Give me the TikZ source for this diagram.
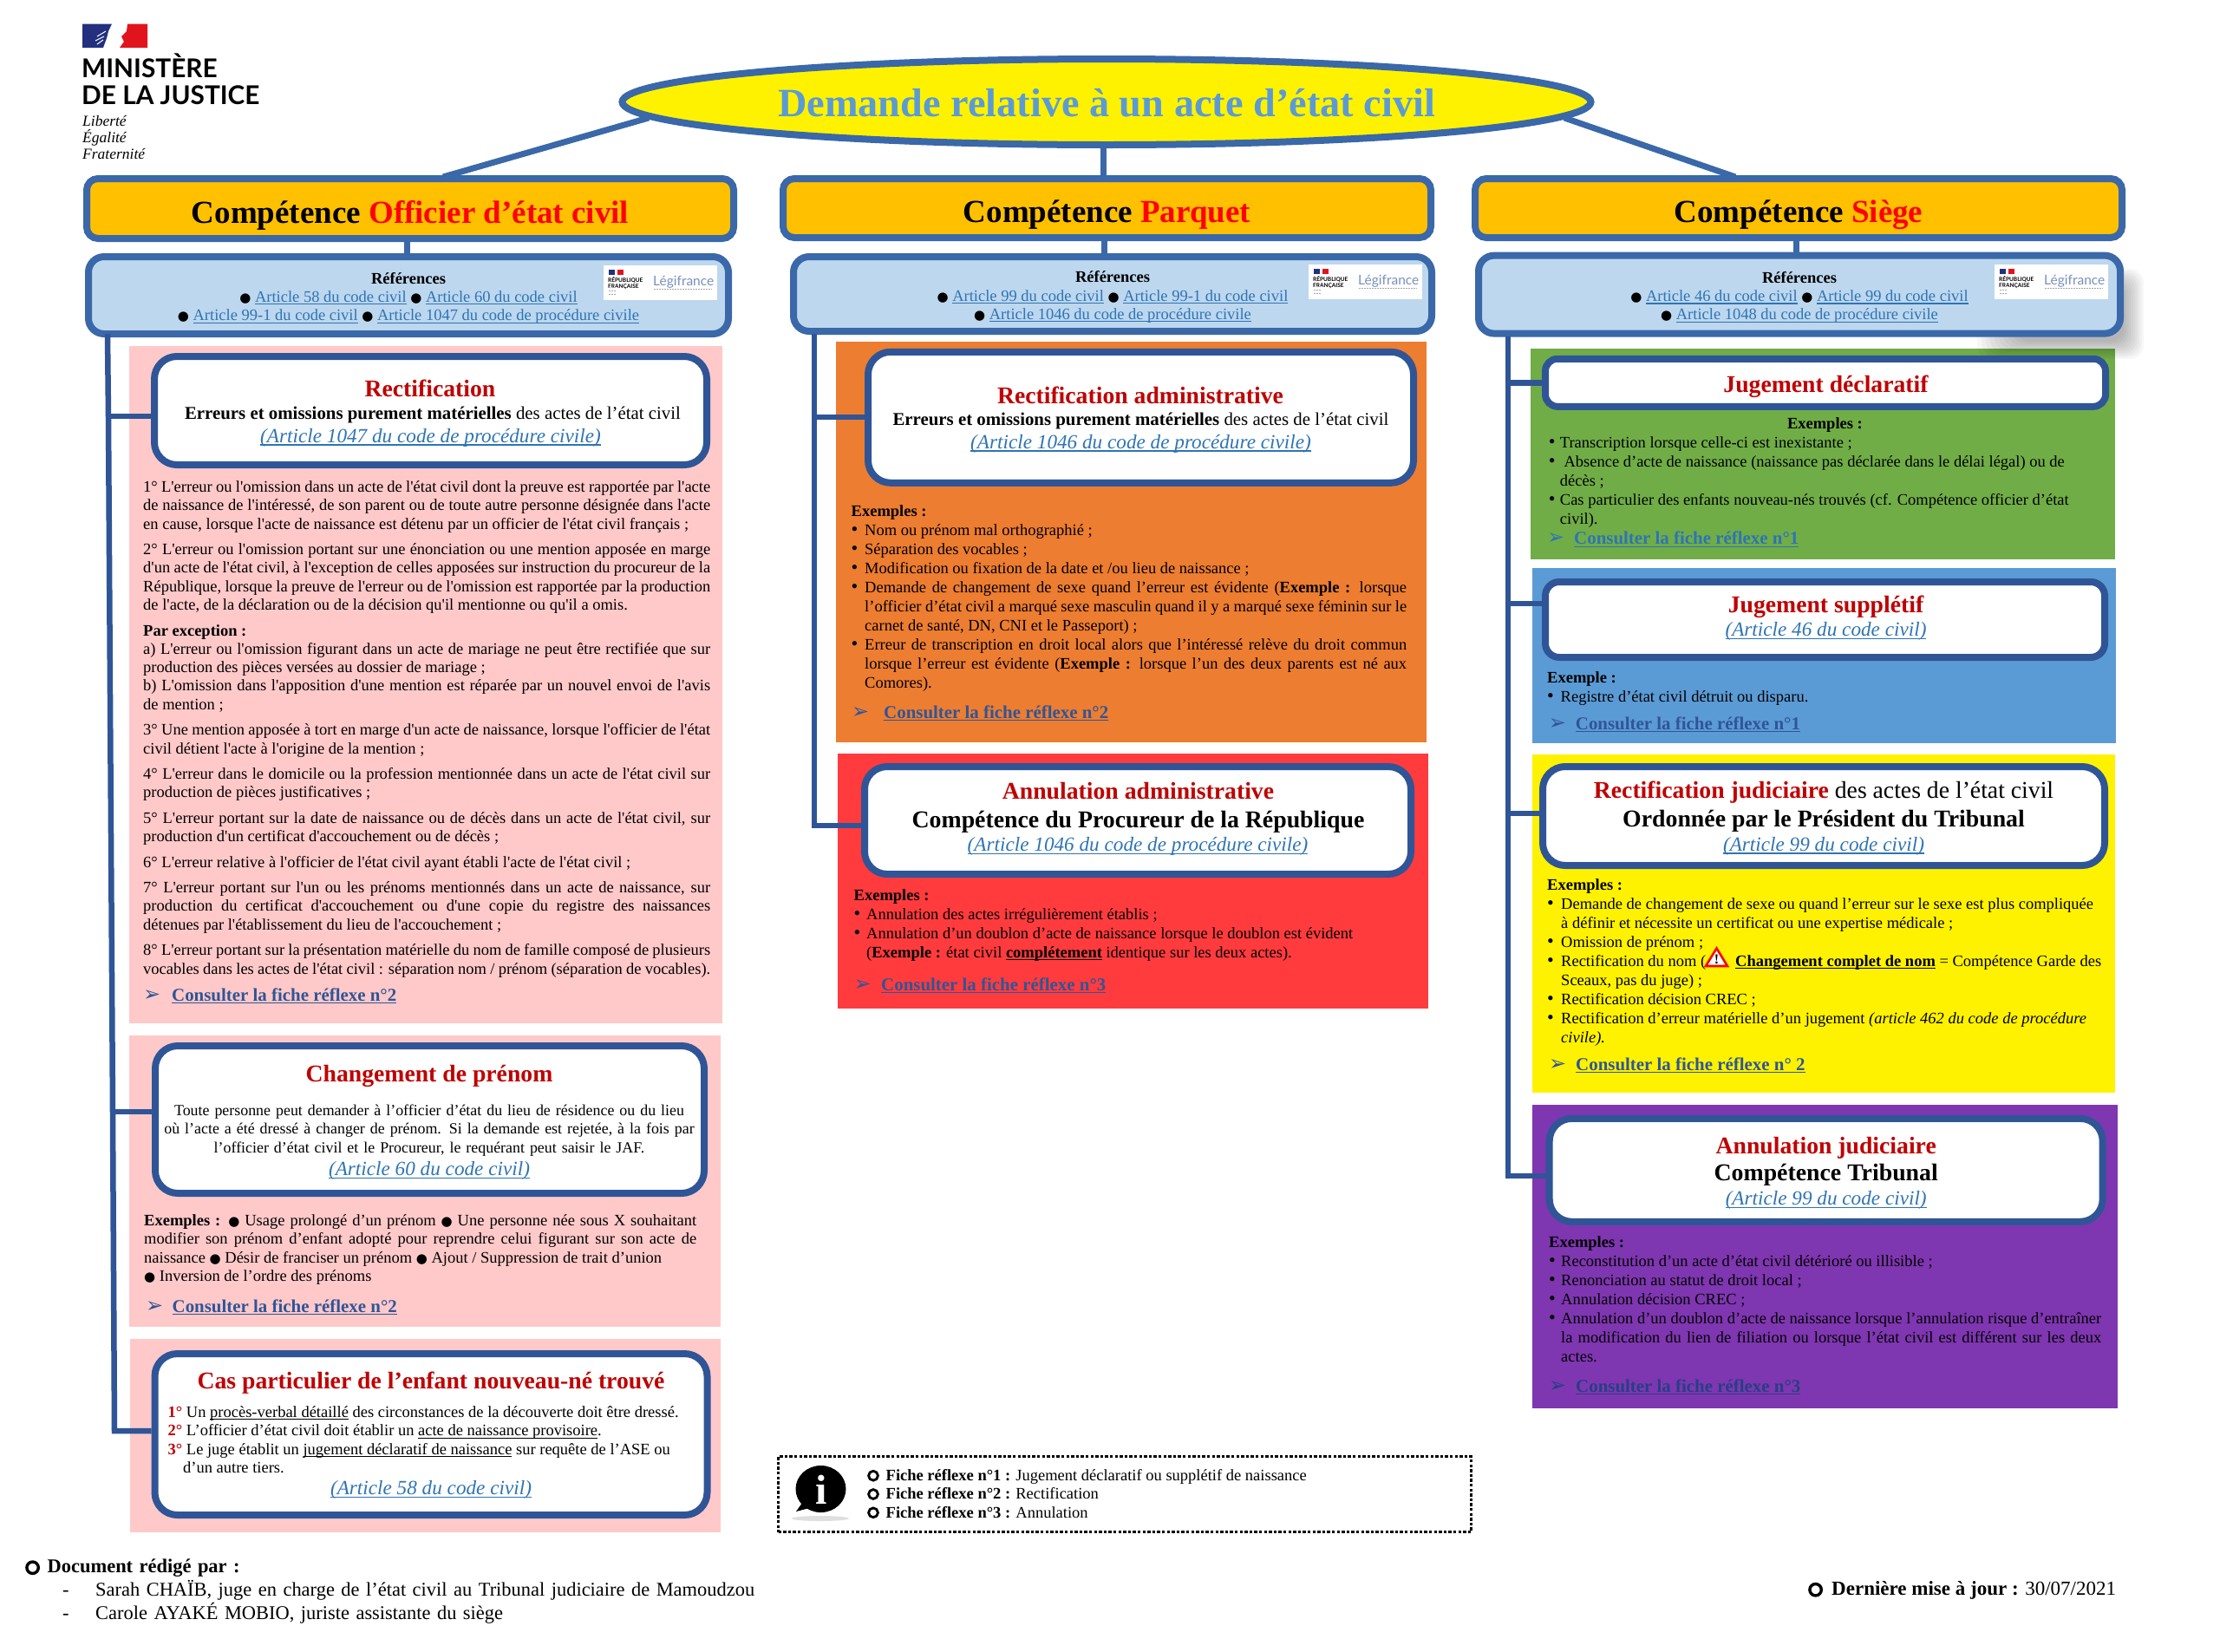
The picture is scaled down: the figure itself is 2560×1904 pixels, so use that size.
\documentclass[tikz,border=0pt]{standalone}
\usepackage{fontspec}
\usepackage{tikz}
\usetikzlibrary{shapes.geometric}
\setmainfont[Ligatures=TeXOff]{Liberation Serif}
\newfontfamily\dingfont{DejaVu Sans}
\newfontfamily\logofont{Lato}
\definecolor{edgeblue}{HTML}{3A68A9}
\definecolor{boxblue}{HTML}{2F5597}
\definecolor{headgold}{HTML}{FFC000}
\definecolor{refblue}{HTML}{BDD7EE}
\definecolor{titlered}{HTML}{C00000}
\definecolor{urlblue}{HTML}{2E74B5}
\definecolor{fichelink}{HTML}{2F5597}
\definecolor{fichedark}{HTML}{263F85}
\definecolor{panepink}{HTML}{FFC9C9}
\definecolor{paneorange}{HTML}{ED7D31}
\definecolor{panered}{HTML}{FF3B3D}
\definecolor{panegreen}{HTML}{70AD47}
\definecolor{paneblue}{HTML}{5B9BD5}
\definecolor{panepurple}{HTML}{7F36B1}
\definecolor{flagblue}{HTML}{23307F}
\definecolor{flagred}{HTML}{E1141E}
\newcommand{\uline}[1]{\leavevmode\setbox0=\hbox{#1}\hbox{\rlap{\vrule width\wd0 height-.1em depth .16em}\box0}}
\newcommand{\rond}{{\dingfont\fontsize{15}{15}\selectfont ●}}
\newcommand{\anneau}[3]{\leavevmode\hbox to #1{\tikz[baseline=-5.8pt]\draw[line width=#3] (0,0) circle (#2);\hfil}}
\newcommand{\lien}[1]{{\color{urlblue}\uline{#1}}}
\newcommand{\fiche}[2]{\leavevmode\hbox to #1{{\color{fichelink}\dingfont\fontsize{24}{24}\selectfont ➢}\hfil}{\color{fichelink}\uline{#2}}}
\newcommand{\puce}[1][13pt]{\par\hangindent=#1\hangafter=1\noindent\hbox to #1{{\fontsize{22}{22}\selectfont •}\hfil}\ignorespaces}
\newcommand{\refhead}{\rule{0pt}{20pt}\textbf{Références}}
\hbadness=10000 \hfuzz=20pt
\begin{document}
\begin{tikzpicture}[x=1pt,y=-1pt,
    header/.style={
% The shape:
      rectangle, rounded corners=13pt, inner sep=0pt,
% The border:
      line width=8pt, draw=edgeblue,
% The filling:
      fill=headgold,
% Font
      font=\fontsize{37}{42}\selectfont\bfseries, text height=33pt, text depth=0pt
    },
    refbox/.style={
      rectangle, rounded corners=18pt, inner sep=0pt,
      line width=8pt, draw=edgeblue, fill=refblue, align=center,
      font=\fontsize{18.5}{21.3}\selectfont
    },
    whitebox/.style={
      rectangle, rounded corners=26pt, inner sep=0pt,
      line width=8pt, draw=boxblue, fill=white
    },
    trait/.style={line width=6.5pt, draw=boxblue},
    toptrait/.style={line width=7pt, draw=edgeblue},
    pane/.style={draw=none},
    boxtitle/.style={anchor=base, inner sep=0pt, text=titlered, font=\fontsize{27.7}{31}\selectfont\bfseries},
    boxsub/.style={anchor=base, inner sep=0pt, font=\fontsize{27.8}{31}\selectfont\bfseries},
    boxline/.style={anchor=base, inner sep=0pt, font=\fontsize{20.85}{24}\selectfont},
    article/.style={anchor=base, inner sep=0pt, font=\fontsize{23.2}{26}\selectfont\itshape},
    ficheref/.style={anchor=base west, inner sep=0pt, font=\fontsize{20.9}{24}\selectfont\bfseries},
    corps/.style={anchor=base west, inner sep=0pt, align=justify, font=\fontsize{18.5}{21.3}\selectfont,
      execute at begin node={\setlength{\parskip}{8.2pt}\tolerance=9999\hyphenpenalty=10000}},
    liste/.style={anchor=base west, inner sep=0pt, align=justify, font=\fontsize{18.5}{22}\selectfont,
      execute at begin node={\tolerance=9999\hyphenpenalty=10000}},
    legifrance/.pic={
      \fill[white] (0,0) rectangle (131,40);
      \fill[flagblue] (6,5) rectangle (13,11);
      \fill[flagred] (16,5) rectangle (23,11);
      \node[anchor=north west, inner sep=0pt, align=left, font=\logofont\fontsize{6.5}{7}\selectfont\bfseries] (-rf) at (5,13) {RÉPUBLIQUE\\FRANÇAISE};
      \node[anchor=base west, inner sep=0pt, text=boxblue!65, font=\logofont\fontsize{15.5}{17}\selectfont] (-lf) at (57,23) {Légifrance};
      \draw[gray!70, line width=1pt, dash pattern=on 2pt off 1pt] (58,27.5) -- (125,27.5);
      \draw[gray!70, line width=1pt, dash pattern=on 2pt off 1pt] (6,25) -- (14,25) (6,29) -- (14,29) (6,33) -- (15,33);
    }]
  \useasboundingbox (0,0) rectangle (2560,1904);
  \fill[white] (0,0) rectangle (2560,1904);
% The logo:
  \fill[flagblue] (95,27.5) -- (129,27.5) -- (125,36) -- (123,44) -- (119,55) -- (95,55) -- cycle;
  \fill[flagred] (147,27.5) -- (170,27.5) -- (170,55) -- (138,55) -- (143,48) -- (140,42) -- (146,36) -- cycle;
  \draw[white, line width=1pt] (112,42) -- (122,36) (110,47) -- (120,42) (112,51) -- (119,46);
  \node[anchor=base west, inner sep=0pt, align=left, font=\logofont\fontsize{29.8}{30.5}\selectfont\bfseries] (ministere) at (94,120) {MINISTÈRE\\DE LA JUSTICE};
  \node[anchor=base west, inner sep=0pt, align=left, font=\fontsize{17.5}{18.6}\selectfont\itshape] (devise) at (95,183) {Liberté\\Égalité\\Fraternité};
% The panes:
  \fill[pane, panepink] (149,399) rectangle (833,1180);
  \fill[pane, panepink] (149,1194) rectangle (831,1530);
  \fill[pane, panepink] (150,1544) rectangle (831,1767);
  \fill[pane, paneorange] (964,394) rectangle (1645,856);
  \fill[pane, panered] (966,869) rectangle (1647,1163);
  \fill[pane, panegreen] (1765,402) rectangle (2439,645);
  \fill[pane, paneblue] (1767,655) rectangle (2440,857);
  \fill[pane, yellow] (1767,870) rectangle (2439,1260);
  \fill[pane, panepurple] (1767,1274) rectangle (2442,1624);
% The soft shadow of the last reference box:
  \foreach \i in {0,...,9}
    \fill[black, opacity=.03, rounded corners=16pt] (2280+\i*5,310+\i*2) rectangle (2472-\i*2.5,414-\i*2.2);
% The title:
  \node[ellipse, inner sep=0pt, minimum width=1117pt, minimum height=99pt, line width=8pt, draw=edgeblue, fill=yellow,
    text=paneblue, font=\fontsize{46.3}{50}\selectfont\bfseries, text height=33pt, text depth=0pt] (demande) at (1276,117.5)
    {Demande relative à un acte d’état civil};
% The headers:
  \node[header, minimum width=746pt, minimum height=69pt] (headA) at (473,240.5) {Compétence \textcolor{red}{Officier d’état civil}};
  \node[header, minimum width=747pt, minimum height=68pt] (headB) at (1276.5,240) {Compétence \textcolor{red}{Parquet}};
  \node[header, minimum width=746pt, minimum height=68pt] (headC) at (2074,240) {Compétence \textcolor{red}{Siège}};
% The references:
  \node[refbox, minimum width=738pt, minimum height=89pt] (refA) at (471,340.5) {\refhead\\
    \rond\ \lien{Article 58 du code civil} \rond\ \lien{Article 60 du code civil}\\
    \rond\ \lien{Article 99-1 du code civil} \rond\ \lien{Article 1047 du code de procédure civile}};
  \node[refbox, minimum width=736pt, minimum height=86pt] (refB) at (1283,339) {\refhead\\
    \rond\ \lien{Article 99 du code civil} \rond\ \lien{Article 99-1 du code civil}\\
    \rond\ \lien{Article 1046 du code de procédure civile}};
  \node[refbox, minimum width=740pt, minimum height=90pt] (refC) at (2075,339.6) {\refhead\\
    \rond\ \lien{Article 46 du code civil} \rond\ \lien{Article 99 du code civil}\\
    \rond\ \lien{Article 1048 du code de procédure civile}};
  \pic (legifA) at (696,306) {legifrance};
  \pic (legifB) at (1509,305) {legifrance};
  \pic (legifC) at (2300,305) {legifrance};
% Left column:
  \node[whitebox, minimum width=637pt, minimum height=125pt] (rectif) at (496.5,473.5) {};
  \node[boxtitle] (rectifT) at (496,457.5) {Rectification};
  \node[boxline] (rectifS) at (499,483) {\textbf{Erreurs et omissions purement matérielles} des actes de l’état civil};
  \node[article] (rectifA) at (496.5,510) {\lien{(Article 1047 du code de procédure civile)}};
  \node[corps, text width=654pt] (rectifC) at (165,567.5) {%
1° L'erreur ou l'omission dans un acte de l'état civil dont la preuve est rapportée par l'acte\linebreak
de naissance de l'intéressé, de son parent ou de toute autre personne désignée dans l'acte\linebreak
en cause, lorsque l'acte de naissance est détenu par un officier de l'état civil français ;\par
2° L'erreur ou l'omission portant sur une énonciation ou une mention apposée en marge\linebreak
d'un acte de l'état civil, à l'exception de celles apposées sur instruction du procureur de la\linebreak
République, lorsque la preuve de l'erreur ou de l'omission est rapportée par la production\linebreak
de l'acte, de la déclaration ou de la décision qu'il mentionne ou qu'il a omis.\par
\textbf{Par exception :}\\
a) L'erreur ou l'omission figurant dans un acte de mariage ne peut être rectifiée que sur\linebreak
production des pièces versées au dossier de mariage ;\\
b) L'omission dans l'apposition d'une mention est réparée par un nouvel envoi de l'avis\linebreak
de mention ;\par
3° Une mention apposée à tort en marge d'un acte de naissance, lorsque l'officier de l'état\linebreak
civil détient l'acte à l'origine de la mention ;\par
4° L'erreur dans le domicile ou la profession mentionnée dans un acte de l'état civil sur\linebreak
production de pièces justificatives ;\par
5° L'erreur portant sur la date de naissance ou de décès dans un acte de l'état civil, sur\linebreak
production d'un certificat d'accouchement ou de décès ;\par
6° L'erreur relative à l'officier de l'état civil ayant établi l'acte de l'état civil ;\par
7° L'erreur portant sur l'un ou les prénoms mentionnés dans un acte de naissance, sur\linebreak
production du certificat d'accouchement ou d'une copie du registre des naissances\linebreak
détenues par l'établissement du lieu de l'accouchement ;\par
8° L'erreur portant sur la présentation matérielle du nom de famille composé de plusieurs\linebreak
vocables dans les actes de l'état civil : séparation nom / prénom (séparation de vocables).};
  \node[ficheref] (rectifF) at (165,1154) {\fiche{33pt}{Consulter la fiche réflexe n°2}};

  \node[whitebox, minimum width=633pt, minimum height=170pt] (prenom) at (495.5,1291) {};
  \node[boxtitle] (prenomT) at (495,1247.5) {Changement de prénom};
  \node[corps, anchor=base, align=center, text width=628pt, font=\fontsize{17.9}{21.3}\selectfont] (prenomC) at (495,1286.5) {%
Toute personne peut demander à l’officier d’état du lieu de résidence ou du lieu\\
où l’acte a été dressé à changer de prénom. Si la demande est rejetée, à la fois par\\
l’officier d’état civil et le Procureur, le requérant peut saisir le JAF.};
  \node[article] (prenomA) at (495,1355.5) {\lien{(Article 60 du code civil)}};
  \node[corps, text width=637pt] (prenomX) at (166,1413.5) {%
\textbf{Exemples :} \rond\ Usage prolongé d’un prénom \rond\ Une personne née sous X souhaitant\linebreak
modifier son prénom d’enfant adopté pour reprendre celui figurant sur son acte de\linebreak
naissance \rond\ Désir de franciser un prénom \rond\ Ajout / Suppression de trait d’union\\
\rond\ Inversion de l’ordre des prénoms};
  \node[ficheref] (prenomF) at (168,1513) {\fiche{30.5pt}{Consulter la fiche réflexe n°2}};

  \node[whitebox, minimum width=637pt, minimum height=186pt] (cas) at (497,1654) {};
  \node[boxtitle] (casT) at (497,1601) {Cas particulier de l’enfant nouveau-né trouvé};
  \node[corps, text width=620pt] (casC) at (193.5,1634.5) {%
\textcolor{titlered}{\textbf{1°}} Un \uline{procès-verbal détaillé} des circonstances de la découverte doit être dressé.\\
\textcolor{titlered}{\textbf{2°}} L’officier d’état civil doit établir un \uline{acte de naissance provisoire}.\\
\textcolor{titlered}{\textbf{3°}} Le juge établit un \uline{jugement déclaratif de naissance} sur requête de l’ASE ou\\
\hspace*{17.5pt}d’un autre tiers.};
  \node[article] (casA) at (497,1723.5) {\lien{(Article 58 du code civil)}};
% Middle column:
  \node[whitebox, minimum width=629pt, minimum height=151pt] (rectadm) at (1315.5,481.3) {};
  \node[boxtitle] (rectadmT) at (1315,465) {Rectification administrative};
  \node[boxline] (rectadmS) at (1315.5,490.5) {\textbf{Erreurs et omissions purement matérielles} des actes de l’état civil};
  \node[article] (rectadmA) at (1315.5,517) {\lien{(Article 1046 du code de procédure civile)}};
  \node[liste, text width=640.5pt] (rectadmX) at (981.5,595.5) {%
\textbf{Exemples :}
\puce[15.5pt] Nom ou prénom mal orthographié ;
\puce[15.5pt] Séparation des vocables ;
\puce[15.5pt] Modification ou fixation de la date et /ou lieu de naissance ;
\puce[15.5pt] Demande de changement de sexe quand l’erreur est évidente (\textbf{Exemple :} lorsque\linebreak
l’officier d’état civil a marqué sexe masculin quand il y a marqué sexe féminin sur le\linebreak
carnet de santé, DN, CNI et le Passeport) ;
\puce[15.5pt] Erreur de transcription en droit local alors que l’intéressé relève du droit commun\linebreak
lorsque l’erreur est évidente (\textbf{Exemple :} lorsque l’un des deux parents est né aux\linebreak
Comores).\par};
  \node[ficheref] (rectadmF) at (982,828) {\fiche{37pt}{Consulter la fiche réflexe n°2}};

  \node[whitebox, minimum width=630pt, minimum height=124pt] (annadm) at (1312,946) {};
  \node[boxtitle] (annadmT) at (1312.5,921) {Annulation administrative};
  \node[boxsub] (annadmS) at (1312.5,954) {Compétence du Procureur de la République};
  \node[article] (annadmA) at (1312,981.5) {\lien{(Article 1046 du code de procédure civile)}};
  \node[liste, text width=640pt] (annadmX) at (984.5,1038.5) {%
\textbf{Exemples :}
\puce[14.5pt] Annulation des actes irrégulièrement établis ;
\puce[14.5pt] Annulation d’un doublon d’acte de naissance lorsque le doublon est évident\\
(\textbf{Exemple :} état civil \textbf{\uline{complétement}} identique sur les deux actes).\par};
  \node[ficheref] (annadmF) at (984.5,1142) {\fiche{31.5pt}{Consulter la fiche réflexe n°3}};
% Right column:
  \node[whitebox, rounded corners=14pt, minimum width=646pt, minimum height=55pt] (declar) at (2105,441.3) {};
  \node[boxtitle] (declarT) at (2105.5,452) {Jugement déclaratif};
  \node[liste, text width=637pt] (declarX) at (1785.7,494) {%
\hbox to \hsize{\hfil\textbf{Exemples :}\hfil}
\puce Transcription lorsque celle-ci est inexistante ;
\puce\ Absence d’acte de naissance (naissance pas déclarée dans le délai légal) ou de\\
décès ;
\puce Cas particulier des enfants nouveau-nés trouvés (cf. Compétence officier d’état\\
civil).\par};
  \node[ficheref] (declarF) at (1784,627.5) {\colorlet{fichelink}{urlblue}\fiche{31pt}{Consulter la fiche réflexe n°1}};

  \node[whitebox, rounded corners=16pt, minimum width=645pt, minimum height=87pt] (suppl) at (2104.5,714.5) {};
  \node[boxtitle] (supplT) at (2105.5,706) {Jugement supplétif};
  \node[article] (supplA) at (2105.5,733.5) {\lien{(Article 46 du code civil)}};
  \node[liste, text width=637pt] (supplX) at (1784,787.5) {%
\textbf{Exemple :}
\puce[15.5pt] Registre d’état civil détruit ou disparu.\par};
  \node[ficheref] (supplF) at (1785.7,841) {\fiche{31pt}{Consulter la fiche réflexe n°1}};

  \node[whitebox, minimum width=648pt, minimum height=114pt] (rectjud) at (2103,941) {};
  \node[boxtitle, text=black, font=\fontsize{27.7}{31}\selectfont] (rectjudT) at (2103,920.7) {\textcolor{titlered}{\textbf{Rectification judiciaire}} des actes de l’état civil};
  \node[boxsub] (rectjudS) at (2103,953) {Ordonnée par le Président du Tribunal};
  \node[article] (rectjudA) at (2103,981) {\lien{(Article 99 du code civil)}};
  \node[liste, text width=639pt] (rectjudX) at (1784,1026) {%
\textbf{Exemples :}
\puce[16pt] Demande de changement de sexe ou quand l’erreur sur le sexe est plus compliquée\\
à définir et nécessite un certificat ou une expertise médicale ;
\puce[16pt] Omission de prénom ;
\puce[16pt] Rectification du nom (\hspace{34pt}\textbf{\uline{Changement complet de nom}} = Compétence Garde des\linebreak
Sceaux, pas du juge) ;
\puce[16pt] Rectification décision CREC ;
\puce[16pt] Rectification d’erreur matérielle d’un jugement \textit{(article 462 du code de procédure\\
civile).}\par};
  \draw[red, line width=2.6pt, fill=white, line join=miter] (1979.5,1093.5) -- (1992,1114) -- (1967,1114) -- cycle;
  \node[inner sep=0pt, font=\fontsize{16}{16}\selectfont\bfseries] (alerte) at (1979.5,1106) {!};
  \node[ficheref] (rectjudF) at (1786,1234) {\fiche{31pt}{Consulter la fiche réflexe n° 2}};

  \node[whitebox, minimum width=638pt, minimum height=119pt] (annjud) at (2105.7,1349.3) {};
  \node[boxtitle] (annjudT) at (2105.7,1330) {Annulation judiciaire};
  \node[boxsub] (annjudS) at (2105.7,1361) {Compétence Tribunal};
  \node[article] (annjudA) at (2105.7,1389.5) {\lien{(Article 99 du code civil)}};
  \node[liste, text width=637pt] (annjudX) at (1786,1438) {%
\textbf{Exemples :}
\puce[14pt] Reconstitution d’un acte d’état civil détérioré ou illisible ;
\puce[14pt] Renonciation au statut de droit local ;
\puce[14pt] Annulation décision CREC ;
\puce[14pt] Annulation d’un doublon d’acte de naissance lorsque l’annulation risque d’entraîner\linebreak
la modification du lien de filiation ou lorsque l’état civil est différent sur les deux\linebreak
actes.\par};
  \node[ficheref] (annjudF) at (1786,1605) {\colorlet{fichelink}{fichedark}\fiche{31pt}{Consulter la fiche réflexe n°3}};
% The connectors:
  \coordinate (endA) at (511,204);
  \coordinate (endC) at (2001,204);
  \draw[toptrait] (demande.182) -- (endA);
  \draw[toptrait] ([xshift=-4pt]demande.south) -- ([xshift=-4pt]demande.south |- headB.north);
  \draw[toptrait] (demande.358) -- (endC);
  \draw[toptrait] ([xshift=-3.5pt]headA.south) -- ([xshift=-3.5pt]headA.south |- refA.north);
  \draw[toptrait] ([xshift=-3.5pt]headB.south) -- ([xshift=-3.5pt]headB.south |- refB.north);
  \draw[toptrait] ([xshift=-2.5pt]headC.south) -- ([xshift=-2.5pt]headC.south |- refC.north);
  \coordinate (startA) at (124,385);
  \coordinate (jointA) at (125,480);
  \coordinate (jointB) at (130,1282);
  \coordinate (lastA) at (132,1650);
  \draw[trait, line join=miter] (startA) -- (jointA) -- (jointB) -- (lastA) -- (lastA -| cas.west);
  \draw[trait] (jointA) -- (jointA -| rectif.west);
  \draw[trait] (jointB) -- (jointB -| prenom.west);
  \coordinate (startB) at (939,385);
  \coordinate (jointC) at (939,481);
  \coordinate (lastB) at (939,952);
  \draw[trait, line join=miter] (startB) -- (lastB) -- (lastB -| annadm.west);
  \draw[trait] (jointC) -- (jointC -| rectadm.west);
  \coordinate (startC) at (1739,388);
  \coordinate (jointD) at (1739,441.5);
  \coordinate (jointE) at (1739,696);
  \coordinate (jointF) at (1739,938);
  \coordinate (lastC) at (1739,1356);
  \draw[trait, line join=miter] (startC) -- (lastC) -- (lastC -| annjud.west);
  \draw[trait] (jointD) -- (jointD -| declar.west);
  \draw[trait] (jointE) -- (jointE -| suppl.west);
  \draw[trait] (jointF) -- (jointF -| rectjud.west);
% The legend:
  \node[rectangle, inner sep=0pt, minimum width=799pt, minimum height=87pt, line width=3.4pt, draw=black, dash pattern=on 3.4pt off 2.2pt] (legend) at (1297,1723) {};
  \fill[gray!25] (946,1751) ellipse (33pt and 3pt);
  \fill[black] (946.5,1717) ellipse (29pt and 27pt);
  \fill[black] (925,1733) -- (918,1743) -- (937,1738) -- cycle;
  \node[inner sep=0pt, text=white, anchor=base, font=\fontsize{48}{48}\selectfont\bfseries] (infoI) at (947,1734) {i};
  \node[corps, text width=640pt] (legendT) at (1000,1707.5) {%
\anneau{21.5pt}{5.4pt}{2.8pt}\textbf{Fiche réflexe n°1 :} Jugement déclaratif ou supplétif de naissance\\
\anneau{21.5pt}{5.4pt}{2.8pt}\textbf{Fiche réflexe n°2 :} Rectification\\
\anneau{21.5pt}{5.4pt}{2.8pt}\textbf{Fiche réflexe n°3 :} Annulation};
% The footer:
  \node[anchor=base west, inner sep=0pt, text width=1000pt, font=\fontsize{22.45}{26.8}\selectfont] (redige) at (29,1813.5) {%
\anneau{25.5pt}{6.7pt}{3.4pt}\textbf{Document rédigé par :}\\
\hspace*{43pt}\hbox to 38pt{-\hfil}Sarah CHAÏB, juge en charge de l’état civil au Tribunal judiciaire de Mamoudzou\\
\hspace*{43pt}\hbox to 38pt{-\hfil}Carole AYAKÉ MOBIO, juriste assistante du siège};
  \node[anchor=base west, inner sep=0pt, font=\fontsize{23}{26}\selectfont] (maj) at (2085,1839) {\anneau{27pt}{6.7pt}{3.4pt}\textbf{Dernière mise à jour :} 30/07/2021};
\end{tikzpicture}
\end{document}
